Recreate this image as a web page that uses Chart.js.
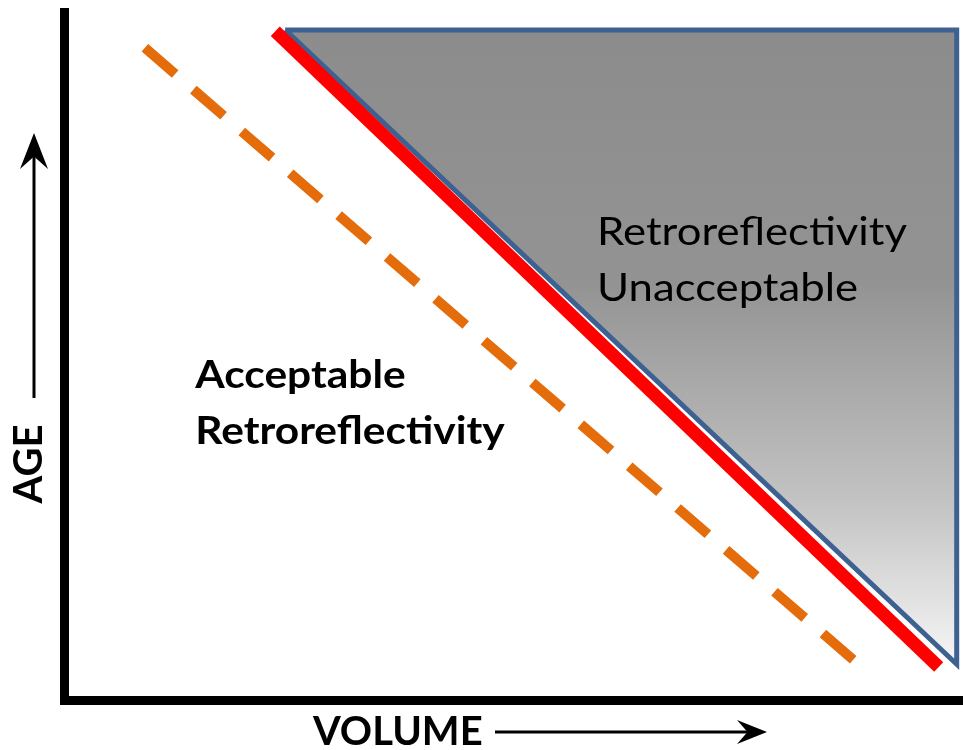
<!DOCTYPE html>
<html>
<head>
<meta charset="utf-8">
<script src="https://cdn.jsdelivr.net/npm/chart.js@4"></script>
<style>
  html, body { margin: 0; padding: 0; background: #fff; }
  #wrap { width: 963px; height: 750px; }
</style>
</head>
<body>
<div id="wrap"><canvas id="ageVolumeChart" width="963" height="750"></canvas></div>
<script>
// volume (x) / age (y) in relative units, 0..100
const zoneX = [24.6, 99.3, 99.3, 24.6];
const zoneY = [97.4, 97.4, 5.2, 97.4];
const limitX = [23.5, 97.3];
const limitY = [97.2, 4.8];
const warnX = [9.0, 88.1];
const warnY = [94.8, 5.5];

const axisTitles = ['VOLUME', 'AGE'];
const regionLabels = [
  { lines: ['Retroreflectivity', 'Unacceptable'], x: 59.3, y: 66.1, bold: false },
  { lines: ['Acceptable', 'Retroreflectivity'], x: 14.6, y: 45.3, bold: true }
];

const toPoints = (xs, ys) => xs.map((x, i) => ({ x: x, y: ys[i] }));

// gray -> white gradient inside the unacceptable zone
function zoneGradient(ctx) {
  const chart = ctx.chart;
  const area = chart.chartArea;
  if (!area) return '#8d8d8d';
  const top = chart.scales.y.getPixelForValue(Math.max(...zoneY));
  const bottom = chart.scales.y.getPixelForValue(Math.min(...zoneY));
  const g = chart.ctx.createLinearGradient(0, top, 0, bottom);
  g.addColorStop(0, '#8c8c8c');
  g.addColorStop(0.4, '#939393');
  g.addColorStop(0.75, '#c4c4c4');
  g.addColorStop(1, '#f6f6f6');
  return g;
}

function drawArrow(c, x1, y1, x2, y2, headLen, headHalf) {
  const ang = Math.atan2(y2 - y1, x2 - x1);
  const cos = Math.cos(ang), sin = Math.sin(ang);
  c.beginPath();
  c.moveTo(x1, y1);
  c.lineTo(x2 - cos * headLen * 0.6, y2 - sin * headLen * 0.6);
  c.stroke();
  const bx = x2 - cos * headLen, by = y2 - sin * headLen;
  c.beginPath();
  c.moveTo(x2, y2);
  c.lineTo(bx - sin * headHalf, by + cos * headHalf);
  c.lineTo(x2 - cos * headLen * 0.65, y2 - sin * headLen * 0.65);
  c.lineTo(bx + sin * headHalf, by - cos * headHalf);
  c.closePath();
  c.fill();
}

const labelsPlugin = {
  id: 'labelsPlugin',
  afterDraw(chart) {
    const c = chart.ctx;
    const xs = chart.scales.x, ys = chart.scales.y;
    const area = chart.chartArea;
    c.save();
    c.fillStyle = '#000';
    c.strokeStyle = '#000';
    c.textBaseline = 'alphabetic';
    c.textAlign = 'left';

    // the source lettering is a little wider than Lato, so stretch it
    regionLabels.forEach(l => {
      c.font = (l.bold ? 'bold ' : '') + '39px Lato';
      const px = xs.getPixelForValue(l.x);
      const py = ys.getPixelForValue(l.y);
      l.lines.forEach((t, i) => {
        c.save();
        c.translate(px, py + i * 56);
        c.scale(l.bold ? 1.09 : 1.12, 1);
        c.fillText(t, 0, 0);
        c.restore();
      });
    });

    // x axis title + arrow
    c.font = 'bold 40px Lato';
    c.fillText(axisTitles[0], area.left + 249, area.bottom + 45);
    c.lineWidth = 3;
    drawArrow(c, area.left + 431, area.bottom + 32, area.left + 703, area.bottom + 32, 30, 12);

    // y axis title + arrow
    c.save();
    c.translate(area.left - 22, area.bottom - 236);
    c.rotate(-Math.PI / 2);
    c.textAlign = 'center';
    c.fillText(axisTitles[1], 0, 0);
    c.restore();
    drawArrow(c, area.left - 30, area.bottom - 302, area.left - 30, area.bottom - 567, 36, 14);
    c.restore();
  }
};

new Chart(document.getElementById('ageVolumeChart'), {
  type: 'scatter',
  data: {
    datasets: [
      {
        label: 'zone',
        data: toPoints(zoneX, zoneY),
        showLine: true,
        fill: 'shape',
        backgroundColor: zoneGradient,
        borderColor: '#3d6191',
        borderWidth: 5,
        borderJoinStyle: 'miter',
        pointRadius: 0,
        order: 3
      },
      {
        label: 'limit',
        data: toPoints(limitX, limitY),
        showLine: true,
        borderColor: '#ff0000',
        borderWidth: 13,
        borderCapStyle: 'butt',
        pointRadius: 0,
        order: 1
      },
      {
        label: 'warning',
        data: toPoints(warnX, warnY),
        showLine: true,
        borderColor: '#e46c0a',
        borderWidth: 10,
        borderDash: [40, 24],
        borderCapStyle: 'butt',
        pointRadius: 0,
        order: 2
      }
    ]
  },
  options: {
    responsive: false,
    animation: false,
    layout: { padding: { left: 64, right: 0, top: 12, bottom: 50 } },
    plugins: {
      legend: { display: false },
      tooltip: { enabled: false }
    },
    scales: {
      x: {
        min: 0, max: 100,
        ticks: { display: false },
        grid: { display: false, drawTicks: false },
        border: { display: true, color: '#000', width: 9 }
      },
      y: {
        min: 0, max: 100,
        ticks: { display: false },
        grid: { display: false, drawTicks: false },
        border: { display: true, color: '#000', width: 9 }
      }
    }
  },
  plugins: [labelsPlugin]
});
</script>
</body>
</html>
